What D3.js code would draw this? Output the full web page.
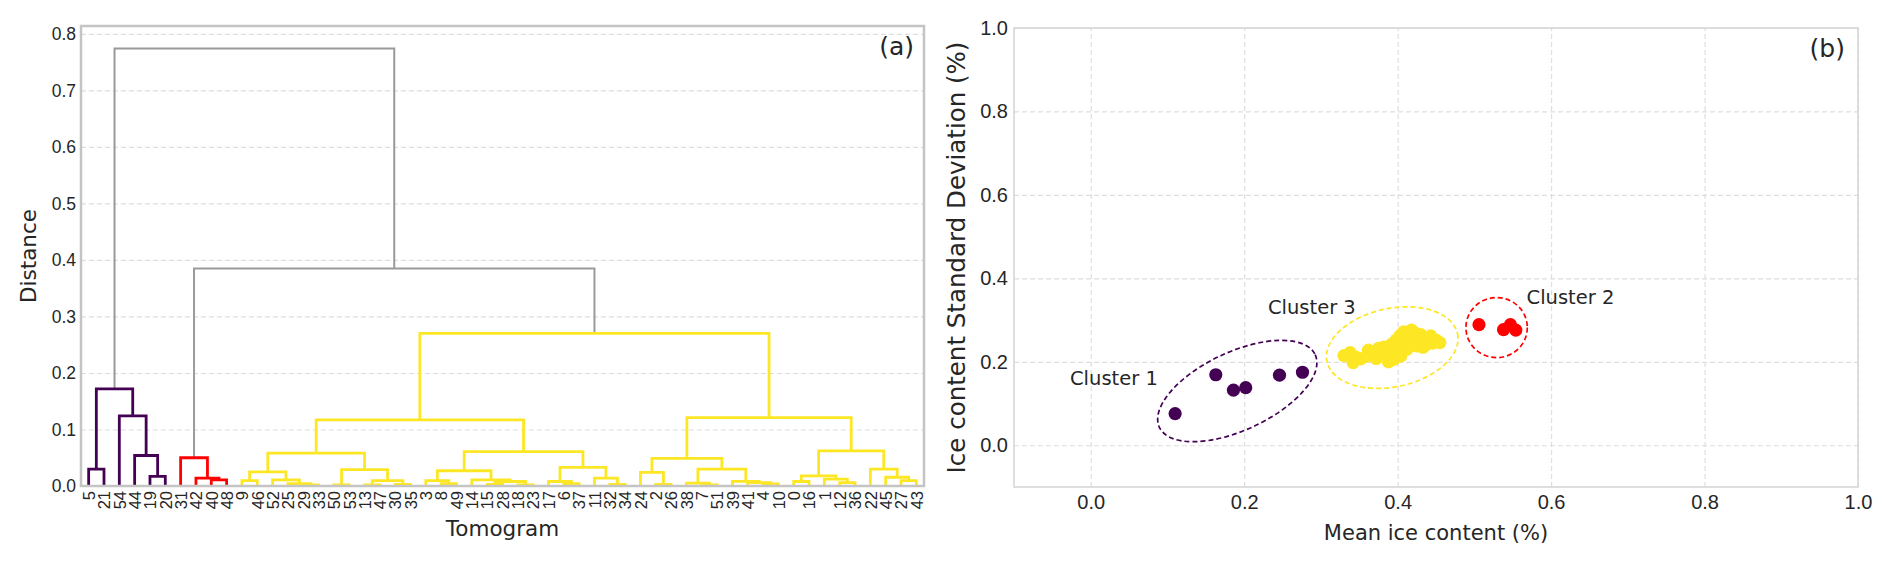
<!DOCTYPE html>
<html>
<head>
<meta charset="utf-8">
<script src="https://d3js.org/d3.v7.min.js"></script>
<title>Tomogram clustering</title>
<style>
  body { margin: 0; background: #fff; }
  svg { display: block; font-family: "DejaVu Sans", sans-serif; }
  .grid line { stroke: #dedede; stroke-width: 1.2; stroke-dasharray: 5,3; }
  .grid path { display: none; }
  .tick text { fill: #262626; }
  .lbl { fill: #262626; }
</style>
</head>
<body>
<svg id="chart" width="1892" height="563"></svg>
<script>
// ---------- panel (a) : dendrogram ----------
const leafOrder = [5,21,54,44,19,20,31,42,40,48,9,46,52,25,29,33,50,53,13,47,30,35,3,8,49,
                   14,15,28,18,23,17,6,37,11,32,34,24,2,26,38,7,51,39,41,4,10,0,16,1,12,36,22,45,27,43];

// linkage rows [a, b, distance]; ids >= 55 point to earlier rows (scipy style)
const linkage = [
  [5,21,0.030],[19,20,0.017],[44,56,0.054],[54,57,0.124],[55,58,0.172],
  [40,48,0.011],[42,60,0.014],[31,61,0.050],
  [9,46,0.0095],[29,33,0.002],[25,64,0.004],[52,65,0.011],[63,66,0.025],[50,53,0.002],
  [13,47,0.002],[30,35,0.003],[69,70,0.0095],[68,71,0.029],[67,72,0.058],
  [8,49,0.004],[3,74,0.0095],[15,28,0.003],[18,23,0.002],[76,77,0.008],[14,78,0.011],
  [75,79,0.027],[6,37,0.004],[17,81,0.008],[32,34,0.003],[11,83,0.014],[82,84,0.033],
  [80,85,0.061],[73,86,0.117],
  [2,26,0.003],[24,88,0.024],[7,51,0.002],[38,90,0.005],[4,10,0.0037],[41,92,0.006],
  [39,93,0.0083],[91,94,0.030],[89,95,0.049],[0,16,0.008],[12,36,0.006],[1,98,0.012],
  [97,99,0.018],[27,43,0.0095],[45,101,0.0155],[22,102,0.030],[100,103,0.062],
  [96,104,0.121],[87,105,0.270],
  [62,106,0.385],[59,107,0.774]
];

const cluster1 = [5,21,54,44,19,20];
const cluster2 = [31,42,40,48];
const colorThreshold = 0.3;
const distanceTicks = [0,0.1,0.2,0.3,0.4,0.5,0.6,0.7,0.8];

// ---------- panel (b) : scatter ----------
const c1Mean = [0.110,0.163,0.186,0.202,0.246,0.276];
const c1Std  = [0.076,0.169,0.132,0.138,0.168,0.175];
const c2Mean = [0.506,0.538,0.547,0.554];
const c2Std  = [0.289,0.277,0.289,0.276];
const c3Mean = [0.330,0.338,0.345,0.342,0.352,0.360,0.368,0.372,0.378,0.382,0.386,0.388,0.392,0.395,0.398,
                0.400,0.403,0.405,0.408,0.410,0.412,0.415,0.418,0.420,0.422,0.425,0.428,0.430,0.433,0.436,
                0.440,0.443,0.446,0.450,0.455,0.362,0.375,0.385,0.395,0.404,0.414,0.426,0.418,0.412,0.438];
const c3Std  = [0.215,0.222,0.212,0.198,0.207,0.214,0.220,0.208,0.225,0.235,0.215,0.200,0.242,0.228,0.252,
                0.220,0.262,0.238,0.272,0.248,0.230,0.265,0.255,0.240,0.270,0.260,0.248,0.265,0.235,0.258,
                0.250,0.262,0.245,0.252,0.246,0.228,0.232,0.222,0.206,0.214,0.258,0.238,0.276,0.268,0.242];
const meanTicks = [0,0.2,0.4,0.6,0.8,1.0];
const stdTicks  = [0,0.2,0.4,0.6,0.8,1.0];

const colors = {c1: "#440154", c2: "#ff0000", c3: "#fde725", above: "#9a9a9a"};

const svg = d3.select("#chart");
const fmt = d3.format(".1f");

// ===== panel (a) =====
const A = {left: 81, right: 924, top: 26, bottom: 486};
const xA = d3.scalePoint().domain(leafOrder).range([A.left, A.right]).padding(0.5);
const yA = d3.scaleLinear().domain([0, 0.814]).range([A.bottom, A.top]);

const gA = svg.append("g");
gA.append("g").attr("class", "grid")
  .attr("transform", `translate(${A.left},0)`)
  .call(d3.axisLeft(yA).tickValues(distanceTicks).tickSize(-(A.right - A.left)).tickFormat(""));

gA.append("g")
  .attr("transform", `translate(${A.left},0)`)
  .call(d3.axisLeft(yA).tickValues(distanceTicks).tickFormat(fmt).tickSize(0).tickPadding(5))
  .call(g => g.select(".domain").remove())
  .selectAll("text").style("font-size", "17.5px");

gA.append("g")
  .attr("transform", `translate(0,${A.bottom})`)
  .call(d3.axisBottom(xA).tickSize(0))
  .call(g => g.select(".domain").remove())
  .selectAll("text")
    .attr("y", 0).attr("x", -5).attr("dy", "0.35em")
    .attr("transform", "rotate(-90)")
    .style("text-anchor", "end")
    .style("font-size", "16.5px");

const nLeaves = leafOrder.length;
function toNode(id) {
  if (id < nLeaves) return {id: id, dist: 0};
  const row = linkage[id - nLeaves];
  return {id: id, dist: row[2], children: [toNode(row[0]), toNode(row[1])]};
}
const root = d3.hierarchy(toNode(nLeaves + linkage.length - 1));
root.eachAfter(n => {
  n.px = n.children ? d3.mean(n.children, c => c.px) : xA(n.data.id);
  n.py = yA(n.data.dist);
});

function linkColor(n) {
  if (n.data.dist > colorThreshold) return colors.above;
  const first = n.leaves()[0].data.id;
  if (cluster1.includes(first)) return colors.c1;
  if (cluster2.includes(first)) return colors.c2;
  return colors.c3;
}

gA.append("g").selectAll("path")
  .data(root.descendants().filter(n => n.children))
  .join("path")
    .attr("d", n => {
      const l = n.children[0], r = n.children[1];
      return `M${l.px},${l.py}V${n.py}H${r.px}V${r.py}`;
    })
    .attr("fill", "none")
    .attr("stroke", linkColor)
    .attr("stroke-width", n => n.data.dist > colorThreshold ? 2 : 2.8);

gA.append("rect")
  .attr("x", A.left).attr("y", A.top)
  .attr("width", A.right - A.left).attr("height", A.bottom - A.top)
  .attr("fill", "none").attr("stroke", "#c4c4c4").attr("stroke-width", 2.5);

gA.append("text").attr("class", "lbl")
  .attr("x", (A.left + A.right) / 2).attr("y", 536)
  .attr("text-anchor", "middle").style("font-size", "21.5px").text("Tomogram");
gA.append("text").attr("class", "lbl")
  .attr("transform", `translate(36,${(A.top + A.bottom) / 2}) rotate(-90)`)
  .attr("text-anchor", "middle").style("font-size", "21.5px").text("Distance");
gA.append("text").attr("class", "lbl")
  .attr("x", 914).attr("y", 55)
  .attr("text-anchor", "end").style("font-size", "25px").text("(a)");

// ===== panel (b) =====
const B = {left: 1014, right: 1858, top: 28, bottom: 487};
const xB = d3.scaleLinear().domain([-0.1, 1.0]).range([B.left, B.right]);
const yB = d3.scaleLinear().domain([-0.1, 1.0]).range([B.bottom, B.top]);

const gB = svg.append("g");
gB.append("g").attr("class", "grid")
  .attr("transform", `translate(0,${B.bottom})`)
  .call(d3.axisBottom(xB).tickValues(meanTicks).tickSize(-(B.bottom - B.top)).tickFormat(""));
gB.append("g").attr("class", "grid")
  .attr("transform", `translate(${B.left},0)`)
  .call(d3.axisLeft(yB).tickValues(stdTicks).tickSize(-(B.right - B.left)).tickFormat(""));

gB.append("g")
  .attr("transform", `translate(0,${B.bottom})`)
  .call(d3.axisBottom(xB).tickValues(meanTicks).tickFormat(fmt).tickSize(0).tickPadding(8))
  .call(g => g.select(".domain").remove())
  .selectAll("text").style("font-size", "20px");
gB.append("g")
  .attr("transform", `translate(${B.left},0)`)
  .call(d3.axisLeft(yB).tickValues(stdTicks).tickFormat(fmt).tickSize(0).tickPadding(6))
  .call(g => g.select(".domain").remove())
  .selectAll("text").style("font-size", "20px");

const scatterSets = [
  {mean: c1Mean, std: c1Std, color: colors.c1},
  {mean: c3Mean, std: c3Std, color: colors.c3},
  {mean: c2Mean, std: c2Std, color: colors.c2}
];
scatterSets.forEach(s => {
  gB.append("g").selectAll("circle")
    .data(d3.range(s.mean.length))
    .join("circle")
      .attr("cx", i => xB(s.mean[i]))
      .attr("cy", i => yB(s.std[i]))
      .attr("r", 6.6)
      .attr("fill", s.color);
});

// dashed cluster outlines [cx, cy, rx, ry, angle], in data units
const outlines = [
  {e: [0.191, 0.130, 0.112, 0.0935, -25], color: colors.c1},
  {e: [0.393, 0.234, 0.087, 0.094, -12], color: colors.c3},
  {e: [0.529, 0.282, 0.040, 0.072, 0],   color: colors.c2}
];
gB.append("g").selectAll("ellipse")
  .data(outlines)
  .join("ellipse")
    .attr("cx", d => xB(d.e[0]))
    .attr("cy", d => yB(d.e[1]))
    .attr("rx", d => xB(d.e[0] + d.e[2]) - xB(d.e[0]))
    .attr("ry", d => yB(d.e[1]) - yB(d.e[1] + d.e[3]))
    .attr("transform", d => `rotate(${d.e[4]},${xB(d.e[0])},${yB(d.e[1])})`)
    .attr("fill", "none")
    .attr("stroke", d => d.color)
    .attr("stroke-width", 1.7)
    .attr("stroke-dasharray", "5,3");

const clusterNames = ["Cluster 1", "Cluster 3", "Cluster 2"];
const clusterLabelPos = [[-0.027, 0.145], [0.231, 0.315], [0.568, 0.339]];
gB.append("g").selectAll("text")
  .data(clusterNames)
  .join("text").attr("class", "lbl")
    .attr("x", (d, i) => xB(clusterLabelPos[i][0]))
    .attr("y", (d, i) => yB(clusterLabelPos[i][1]))
    .style("font-size", "19.5px")
    .text(d => d);

gB.append("rect")
  .attr("x", B.left).attr("y", B.top)
  .attr("width", B.right - B.left).attr("height", B.bottom - B.top)
  .attr("fill", "none").attr("stroke", "#d6d6d6").attr("stroke-width", 1.6);

gB.append("text").attr("class", "lbl")
  .attr("x", (B.left + B.right) / 2).attr("y", 540)
  .attr("text-anchor", "middle").style("font-size", "21px").text("Mean ice content (%)");
gB.append("text").attr("class", "lbl")
  .attr("transform", `translate(965,${(B.top + B.bottom) / 2}) rotate(-90)`)
  .attr("text-anchor", "middle").style("font-size", "24.5px").text("Ice content Standard Deviation (%)");
gB.append("text").attr("class", "lbl")
  .attr("x", 1845).attr("y", 57)
  .attr("text-anchor", "end").style("font-size", "25px").text("(b)");
</script>
</body>
</html>
